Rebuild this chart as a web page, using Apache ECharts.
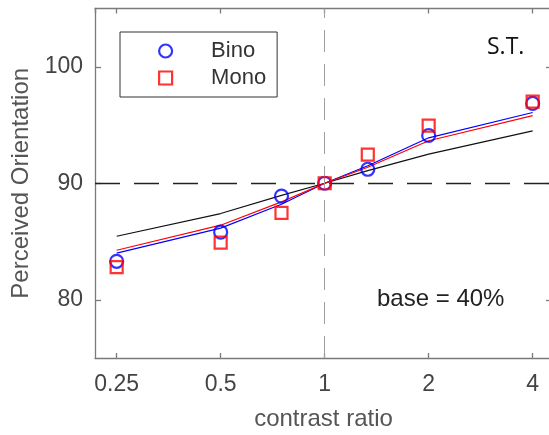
<!DOCTYPE html>
<html>
<head>
<meta charset="utf-8">
<script src="https://cdn.jsdelivr.net/npm/echarts@6/dist/echarts.min.js"></script>
<style>html,body{margin:0;padding:0;background:#fff;}#chart{width:549px;height:435px;}</style>
</head>
<body>
<div id="chart"></div>
<script>
// ---- data ----
const contrastRatios = [0.25, 0.5, 0.75, 1, 1.333, 2, 4];
const binoData = [83.3, 85.8, 88.9, 90, 91.2, 94.1, 96.85];
const monoData = [82.8, 84.9, 87.45, 90, 92.45, 94.95, 97.0];
const binoFit = [84.0, 86.15, 88.2, 90, 91.5, 93.9, 96.07];
const monoFit = [84.25, 86.4, 88.4, 90, 91.37, 93.65, 95.8];
const blackFit = [85.45, 87.4, 88.96, 90, 91.08, 92.5, 94.5];
const xTicks = [0.25, 0.5, 1, 2, 4];
const yTicks = [80, 90, 100];
const refY = 90;
const refX = 1;

const pair = (ys) => contrastRatios.map((x, i) => [x, ys[i]]);

const FONT = 'Liberation Sans';
const xMin = 0.2164, xMax = 4.55;

const chart = echarts.init(document.getElementById('chart'), null, {renderer: 'canvas'});
const axisLineStyle = {color: '#7a7a7a', width: 1.3};
chart.setOption({
  animation: false,
  backgroundColor: '#fff',
  grid: {left: 95, top: 8.5, width: 457, height: 349.5, containLabel: false, outerBoundsMode: 'none'},
  legend: {
    orient: 'vertical', left: 120, top: 32,
    padding: [8, 11, 8, 38],
    borderColor: '#333', borderWidth: 1,
    itemWidth: 13, itemHeight: 13, itemGap: 5,
    textStyle: {fontFamily: FONT, fontSize: 22, color: '#333', padding: [0, 0, 0, 34]},
    data: [
      {name: 'Bino', icon: 'circle', itemStyle: {color: '#fff', borderColor: '#0000ff', borderWidth: 2.2}},
      {name: 'Mono', icon: 'rect', itemStyle: {color: '#fff', borderColor: '#ff0000', borderWidth: 2.2}}
    ]
  },
  xAxis: [{
    type: 'log', logBase: 2, min: xMin, max: xMax,
    position: 'bottom',
    name: 'contrast ratio', nameLocation: 'middle', nameGap: 49,
    nameTextStyle: {fontFamily: FONT, fontSize: 24, color: '#555'},
    axisLine: {lineStyle: axisLineStyle},
    axisTick: {inside: true, length: 5, lineStyle: axisLineStyle},
    axisLabel: {fontFamily: FONT, fontSize: 23, color: '#444', margin: 15, showMinLabel: false, showMaxLabel: false},
    splitLine: {show: false}, minorTick: {show: false}
  }, {
    type: 'log', logBase: 2, min: xMin, max: xMax,
    position: 'top',
    axisLine: {lineStyle: axisLineStyle},
    axisTick: {inside: true, length: 5, lineStyle: axisLineStyle},
    axisLabel: {show: false},
    splitLine: {show: false}
  }],
  yAxis: [{
    type: 'value', min: 75, max: 105,
    position: 'left',
    name: 'Perceived Orientation', nameLocation: 'middle', nameGap: 61,
    nameTextStyle: {fontFamily: FONT, fontSize: 24, color: '#555'},
    axisLine: {show: true, lineStyle: axisLineStyle},
    axisTick: {show: true, inside: true, length: 6, lineStyle: axisLineStyle, customValues: yTicks},
    axisLabel: {fontFamily: FONT, fontSize: 23, color: '#444', margin: 12, customValues: yTicks},
    splitLine: {show: false}
  }, {
    type: 'value', min: 75, max: 105,
    position: 'right',
    axisLine: {show: true, lineStyle: axisLineStyle},
    axisTick: {show: true, inside: true, length: 6, lineStyle: axisLineStyle, customValues: yTicks},
    axisLabel: {show: false},
    splitLine: {show: false}
  }],
  graphic: [
    {type: 'text', left: 487, top: 36, style: {text: 'S.T.', fontFamily: 'Open Sans', fontSize: 23, fill: '#111'}},
    {type: 'text', left: 377, top: 287, style: {text: 'base = 40%', fontFamily: FONT, fontSize: 24, fill: '#222'}}
  ],
  series: [
    {
      name: 'avg', type: 'line', data: pair(blackFit), showSymbol: false, symbol: 'none',
      lineStyle: {color: '#111', width: 1.2}, z: 2, silent: true,
      markLine: {
        silent: true, symbol: 'none', label: {show: false},
        data: [
          {yAxis: refY, lineStyle: {color: '#222', width: 1.3, type: [25, 14]}},
          {xAxis: refX, lineStyle: {color: '#a0a0a0', width: 1, type: [22, 12]}}
        ]
      }
    },
    {name: 'BinoFit', type: 'line', data: pair(binoFit), symbol: 'none', lineStyle: {color: '#0000ff', width: 1.2}, z: 3},
    {name: 'MonoFit', type: 'line', data: pair(monoFit), symbol: 'none', lineStyle: {color: '#ff0000', width: 1.2}, z: 3},
    {
      name: 'Bino', type: 'scatter', data: pair(binoData), symbol: 'circle', symbolSize: 13,
      itemStyle: {color: 'rgba(0,0,0,0)', borderColor: '#0000ff', borderWidth: 2.2}, z: 4
    },
    {
      name: 'Mono', type: 'scatter', data: pair(monoData), symbol: 'rect', symbolSize: 12,
      itemStyle: {color: 'rgba(0,0,0,0)', borderColor: '#ff0000', borderWidth: 2.2}, z: 5
    }
  ]
});
</script>
</body>
</html>
